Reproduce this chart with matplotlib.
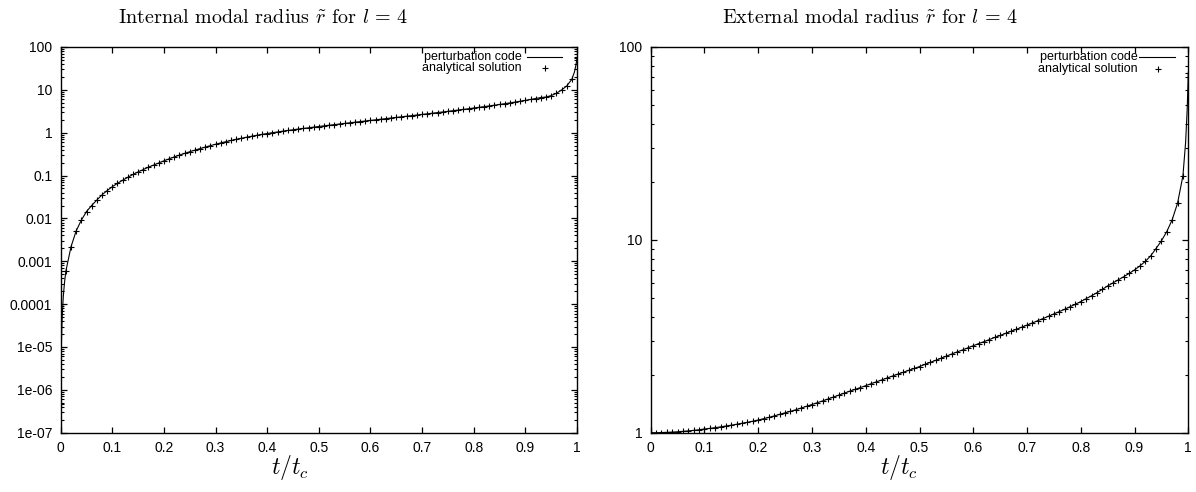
import numpy as np
import matplotlib
matplotlib.use("Agg")
import matplotlib.pyplot as plt
from matplotlib.ticker import LogLocator, NullFormatter, FixedLocator, FixedFormatter

plt.rcParams['mathtext.fontset'] = 'cm'

# ---------------- data ----------------
t_markers = np.linspace(0.0, 1.0, 101)

internal_r = [
    4.68e-7, 5.89e-4, 2.19e-3, 5.13e-3, 9.12e-3, 0.0145, 0.0200, 0.0269, 0.0355, 0.0447,
    0.0550, 0.0661, 0.0776, 0.0912, 0.106, 0.122, 0.138, 0.157, 0.176, 0.197,
    0.221, 0.246, 0.272, 0.300, 0.329, 0.360, 0.392, 0.426, 0.461, 0.499,
    0.538, 0.578, 0.618, 0.659, 0.702, 0.743, 0.785, 0.828, 0.871, 0.914,
    0.957, 1.000, 1.042, 1.086, 1.130, 1.172, 1.216, 1.259, 1.303, 1.349,
    1.396, 1.445, 1.496, 1.545, 1.596, 1.648, 1.702, 1.758, 1.816, 1.875,
    1.936, 2.000, 2.065, 2.133, 2.203, 2.275, 2.350, 2.427, 2.506, 2.588,
    2.673, 2.761, 2.851, 2.951, 3.048, 3.155, 3.266, 3.381, 3.499, 3.631,
    3.767, 3.908, 4.055, 4.217, 4.385, 4.560, 4.753, 4.955, 5.176, 5.420,
    5.689, 5.970, 6.281, 6.622, 6.800, 7.350, 8.300, 9.900, 12.30, 17.60,
    54.0,
]

external_r = [
    1.000, 1.000, 1.002, 1.004, 1.007, 1.011, 1.016, 1.022, 1.028, 1.036,
    1.045, 1.053, 1.062, 1.072, 1.083, 1.094, 1.106, 1.119, 1.132, 1.147,
    1.164, 1.182, 1.201, 1.222, 1.245, 1.268, 1.291, 1.315, 1.343, 1.371,
    1.400, 1.431, 1.462, 1.496, 1.531, 1.567, 1.603, 1.641, 1.677, 1.714,
    1.754, 1.795, 1.837, 1.879, 1.923, 1.968, 2.014, 2.058, 2.106, 2.153,
    2.203, 2.259, 2.317, 2.371, 2.432, 2.495, 2.559, 2.624, 2.685, 2.754,
    2.825, 2.897, 2.965, 3.041, 3.119, 3.192, 3.273, 3.357, 3.436, 3.524,
    3.614, 3.707, 3.811, 3.908, 4.018, 4.130, 4.246, 4.365, 4.498, 4.634,
    4.786, 4.955, 5.129, 5.321, 5.534, 5.768, 5.984, 6.209, 6.442, 6.699,
    6.982, 7.328, 7.727, 8.260, 9.016, 9.886, 11.04, 12.71, 15.49, 21.48,
    73.3,
]

# extra points of the (finer) perturbation-code curve near the ends
internal_line_t_extra = [0.0013, 0.002, 0.003, 0.005, 0.0075, 0.995, 0.998]
internal_line_r_extra = [1.0e-5, 2.4e-5, 5.3e-5, 1.5e-4, 3.3e-4, 26.0, 38.0]
external_line_t_extra = [0.995, 0.998]
external_line_r_extra = [32.0, 48.0]

x_ticks = [0, 0.1, 0.2, 0.3, 0.4, 0.5, 0.6, 0.7, 0.8, 0.9, 1.0]
x_tick_labels = ['0', '0.1', '0.2', '0.3', '0.4', '0.5', '0.6', '0.7', '0.8', '0.9', '1']
left_y_ticks = [1e-7, 1e-6, 1e-5, 1e-4, 1e-3, 1e-2, 1e-1, 1, 10, 100]
left_y_labels = ['1e-07', '1e-06', '1e-05', '0.0001', '0.001', '0.01', '0.1', '1', '10', '100']
right_y_ticks = [1, 10, 100]
right_y_labels = ['1', '10', '100']

titles = [r'Internal modal radius $\tilde{r}$ for $l\,=\,4$',
          r'External modal radius $\tilde{r}$ for $l\,=\,4$']
legend_labels = ['perturbation code', 'analytical solution']

# ---------------- figure ----------------
W, H = 1196, 492
fig = plt.figure(figsize=(W / 100, H / 100), dpi=100)

def frac_box(x0, x1, ytop, ybot):
    return [x0 / W, 1 - ybot / H, (x1 - x0) / W, (ybot - ytop) / H]

ax1 = fig.add_axes(frac_box(60.7, 577.0, 47.0, 432.7))
ax2 = fig.add_axes(frac_box(650.7, 1188.3, 47.0, 432.7))

tick_font = dict(family='Liberation Sans', size=10)


def line_data(t_m, r_m, t_extra, r_extra, drop_first):
    t = list(t_m[1:] if drop_first else t_m) + list(t_extra)
    r = list(r_m[1:] if drop_first else r_m) + list(r_extra)
    order = np.argsort(t)
    return np.array(t)[order], np.array(r)[order]


def style(ax, yticks, ylabels, ylim, leg_pos):
    ax.set_yscale('log')
    ax.set_xlim(0, 1)
    ax.set_ylim(*ylim)
    ax.xaxis.set_major_locator(FixedLocator(x_ticks))
    ax.xaxis.set_major_formatter(FixedFormatter(x_tick_labels))
    ax.yaxis.set_major_locator(FixedLocator(yticks))
    ax.yaxis.set_major_formatter(FixedFormatter(ylabels))
    ax.yaxis.set_minor_locator(LogLocator(base=10, subs=np.arange(2, 10), numticks=50))
    ax.yaxis.set_minor_formatter(NullFormatter())
    ax.tick_params(which='both', direction='in', top=True, right=True, colors='black')
    ax.tick_params(which='major', length=4.5, width=0.9)
    ax.tick_params(which='minor', length=2.3, width=0.8)
    ax.tick_params(axis='x', which='major', pad=6)
    ax.tick_params(axis='y', which='major', pad=6)
    for lab in ax.get_xticklabels() + ax.get_yticklabels():
        lab.set_fontfamily(tick_font['family'])
        lab.set_fontsize(tick_font['size'])
    for sp in ax.spines.values():
        sp.set_linewidth(1.0)
    # legend drawn gnuplot-style
    tx, lx0, lx1, mx, y1, y2 = leg_pos
    ax.text(tx, y1, legend_labels[0], transform=ax.transAxes, ha='right', va='center',
            fontfamily='Liberation Sans', fontsize=9)
    ax.text(tx, y2, legend_labels[1], transform=ax.transAxes, ha='right', va='center',
            fontfamily='Liberation Sans', fontsize=9)
    ax.plot([lx0, lx1], [y1, y1], transform=ax.transAxes, color='black', lw=0.8)
    ax.plot([mx], [y2], transform=ax.transAxes, color='black', marker='+',
            ms=4, mew=0.8, ls='none')


# left panel
tl, rl = line_data(t_markers, internal_r, internal_line_t_extra, internal_line_r_extra, True)
ax1.plot(tl, rl, color='black', lw=0.8)
ax1.plot(t_markers, internal_r, ls='none', marker='+', ms=4.5, mew=0.8, color='black')
style(ax1, left_y_ticks, left_y_labels, (1e-7, 100),
      (0.8925, 0.9033, 0.9713, 0.938, 0.9735, 0.946))

# right panel
tr, rr = line_data(t_markers, external_r, external_line_t_extra, external_line_r_extra, False)
ax2.plot(tr, rr, color='black', lw=0.8)
ax2.plot(t_markers, external_r, ls='none', marker='+', ms=4.5, mew=0.8, color='black')
style(ax2, right_y_ticks, right_y_labels, (1, 100),
      (0.906, 0.9077, 0.9747, 0.9435, 0.974, 0.942))

# titles and x labels
fig.text(263 / W, 1 - 18 / H, titles[0], ha='center', va='center',
         fontfamily='cmr10', fontsize=14.5)
fig.text(870 / W, 1 - 18 / H, titles[1], ha='center', va='center',
         fontfamily='cmr10', fontsize=14.5)
fig.text(290 / W, 1 - 467 / H, r'$t/t_c$', ha='center', va='center', fontsize=17)
fig.text(899 / W, 1 - 467 / H, r'$t/t_c$', ha='center', va='center', fontsize=17)

fig.savefig('out.png', dpi=100, facecolor='white')
